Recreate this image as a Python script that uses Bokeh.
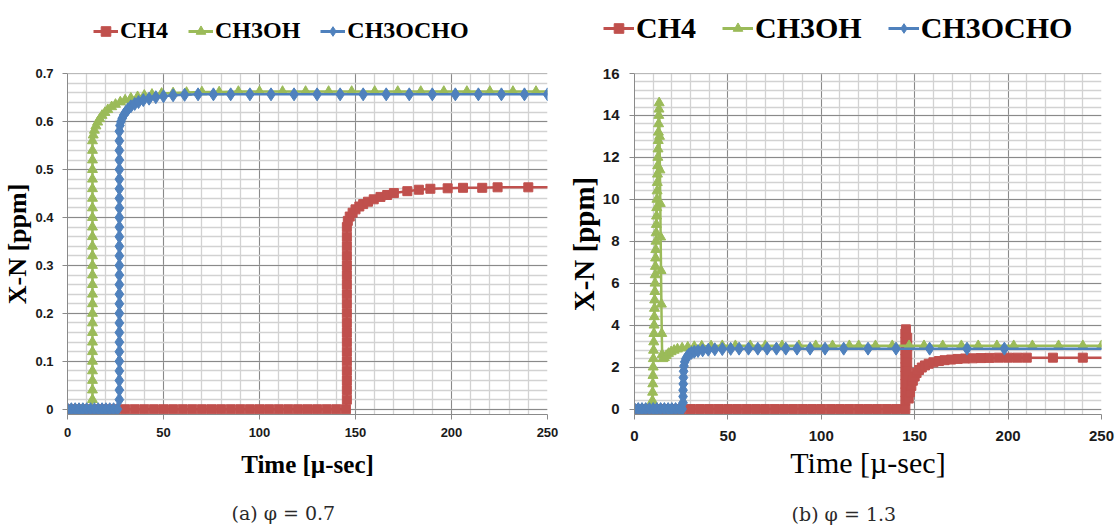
from bokeh.plotting import figure
from bokeh.layouts import row, column
from bokeh.models import (Legend, LegendItem, SingleIntervalTicker, NumeralTickFormatter,
                          Range1d, LinearAxis, FixedTicker)
from bokeh.embed import file_html
from bokeh.resources import INLINE

# ---------------- data ----------------
SERIES = ["CH4", "CH3OH", "CH3OCHO"]

# panel (a) phi = 0.7   (time [micro-sec], X [ppm])
CH4_A = [(0, 0), (5, 0), (10, 0), (15, 0), (20, 0), (25, 0), (30, 0), (35, 0), (40, 0), (45, 0),
         (50, 0), (55, 0), (60, 0), (65, 0), (70, 0), (75, 0), (80, 0), (85, 0), (90, 0), (95, 0),
         (100, 0), (105, 0), (110, 0), (115, 0), (120, 0), (125, 0), (130, 0), (135, 0), (140, 0), (145, 0),
         (145.5, 0.02), (145.5, 0.04), (145.5, 0.06), (145.5, 0.08), (145.5, 0.10), (145.5, 0.12),
         (145.5, 0.14), (145.5, 0.16), (145.5, 0.18), (145.5, 0.20), (145.5, 0.22), (145.5, 0.24),
         (145.5, 0.26), (145.5, 0.28), (145.5, 0.30), (145.5, 0.32), (145.5, 0.34), (145.5, 0.36),
         (145.5, 0.38), (146, 0.393), (147, 0.402), (148.5, 0.41), (150, 0.417), (152, 0.423),
         (154, 0.428), (156.5, 0.433), (159.5, 0.438), (163, 0.443), (166.5, 0.447), (170, 0.451),
         (177, 0.455), (183, 0.458), (189, 0.46), (198, 0.461), (206, 0.462), (216, 0.462),
         (224, 0.463), (240, 0.463), (258, 0.463)]

CH3OH_A = [(0, 0), (2, 0), (4, 0), (6, 0), (8, 0), (10, 0), (12, 0),
           (13, 0.02), (13, 0.04), (13, 0.06), (13, 0.08), (13, 0.10), (13, 0.12), (13, 0.14),
           (13, 0.16), (13, 0.18), (13, 0.20), (13, 0.22), (13, 0.24), (13, 0.26), (13, 0.28),
           (13, 0.30), (13, 0.32), (13, 0.34), (13, 0.36), (13, 0.38), (13, 0.40), (13, 0.42),
           (13, 0.44), (13, 0.46), (13, 0.48), (13, 0.50), (13, 0.52), (13, 0.54), (13, 0.56),
           (13.4, 0.572), (14, 0.582), (14.8, 0.591), (15.7, 0.599), (16.8, 0.606), (18, 0.613),
           (19.5, 0.619), (21, 0.625), (23, 0.631), (25, 0.636), (27.5, 0.641), (30, 0.645),
           (33, 0.649), (36.5, 0.652), (40, 0.655), (44, 0.657), (49, 0.659), (55, 0.66),
           (62, 0.661), (70, 0.662), (79, 0.662), (89, 0.663), (100, 0.663), (112, 0.663),
           (124, 0.663), (136, 0.663), (148, 0.663), (160, 0.663), (172, 0.663), (184, 0.663),
           (196, 0.663), (208, 0.663), (220, 0.663), (232, 0.663), (244, 0.663), (258, 0.663)]

CH3OCHO_A = [(0, 0), (2, 0), (4, 0), (6, 0), (8, 0), (10, 0), (12, 0), (14, 0), (16, 0), (18, 0),
             (20, 0), (22, 0), (24, 0), (26, 0),
             (27, 0.02), (27, 0.04), (27, 0.06), (27, 0.08), (27, 0.10), (27, 0.12), (27, 0.14),
             (27, 0.16), (27, 0.18), (27, 0.20), (27, 0.22), (27, 0.24), (27, 0.26), (27, 0.28),
             (27, 0.30), (27, 0.32), (27, 0.34), (27, 0.36), (27, 0.38), (27, 0.40), (27, 0.42),
             (27, 0.44), (27, 0.46), (27, 0.48), (27, 0.50), (27, 0.52), (27, 0.54), (27, 0.56),
             (27, 0.58), (27.3, 0.592), (27.8, 0.6), (28.5, 0.607), (29.3, 0.614), (30.3, 0.62),
             (31.5, 0.626), (33, 0.632), (35, 0.637), (37, 0.641), (39.5, 0.645), (42.5, 0.648),
             (46, 0.651), (50, 0.653), (55, 0.655), (61, 0.656), (68, 0.657), (76, 0.657),
             (85, 0.657), (95, 0.657), (106, 0.657), (118, 0.657), (130, 0.657), (142, 0.657),
             (154, 0.657), (166, 0.657), (178, 0.657), (190, 0.657), (202, 0.657), (214, 0.657),
             (226, 0.657), (238, 0.657), (250, 0.657), (258, 0.657)]

# panel (b) phi = 1.3
CH4_B = [(0, 0), (5, 0), (10, 0), (15, 0), (20, 0), (25, 0), (30, 0), (35, 0), (40, 0), (45, 0),
         (50, 0), (55, 0), (60, 0), (65, 0), (70, 0), (75, 0), (80, 0), (85, 0), (90, 0), (95, 0),
         (100, 0), (105, 0), (110, 0), (115, 0), (120, 0), (125, 0), (130, 0), (135, 0), (140, 0), (145, 0),
         (145, 0.4), (145, 0.8), (145, 1.2), (145, 1.6), (145, 2.0), (145, 2.4), (145, 2.8),
         (145, 3.2), (145, 3.6), (145.3, 3.8),
         (146, 3.4), (146, 3.0), (146, 2.6), (146, 2.2), (146, 1.8), (146, 1.4), (146, 1.0), (146, 0.6),
         (146.8, 0.5), (147.5, 0.8), (148.2, 1.1), (149, 1.35), (150, 1.55), (151, 1.72),
         (152.3, 1.86), (153.8, 1.98), (155.5, 2.08), (157.5, 2.16), (160, 2.23), (163, 2.29),
         (166, 2.33), (169.5, 2.36), (173, 2.39), (177, 2.41), (181, 2.42), (185.5, 2.43),
         (190, 2.44), (195, 2.45), (200, 2.45), (205, 2.45), (210, 2.45), (224, 2.45),
         (240, 2.45), (258, 2.45)]

CH3OH_B = [(0, 0), (2, 0), (4, 0), (6, 0), (8, 0), (9.5, 0),
           (9.6, 0.4), (9.7, 0.8), (9.8, 1.2), (9.9, 1.6), (10, 2.0), (10.1, 2.4), (10.2, 2.8),
           (10.3, 3.2), (10.4, 3.6), (10.5, 4.0), (10.6, 4.4), (10.7, 4.8), (10.8, 5.2), (10.9, 5.6),
           (11, 6.0), (11.1, 6.4), (11.2, 6.8), (11.3, 7.2), (11.4, 7.6), (11.5, 8.0), (11.6, 8.4),
           (11.7, 8.8), (11.8, 9.2), (11.9, 9.6), (12, 10.0), (12.1, 10.4), (12.2, 10.8),
           (12.3, 11.2), (12.4, 11.6), (12.5, 12.0), (12.6, 12.4), (12.7, 12.8), (12.8, 13.2),
           (12.9, 13.6), (13, 14.0), (13.1, 14.3), (13.2, 14.6),
           (13.4, 13.0), (13.6, 11.4), (13.8, 9.8), (14, 8.2), (14.2, 6.6), (14.4, 5.0),
           (14.6, 3.6), (14.8, 2.6), (15.2, 2.4), (16, 2.45), (17, 2.55), (18.2, 2.65),
           (19.6, 2.73), (21.2, 2.8), (23, 2.86), (25.5, 2.91), (28.5, 2.95), (32, 2.98),
           (36, 3.0), (41, 3.01), (47, 3.02), (54, 3.02), (62, 3.02), (70, 3.02), (79, 3.02),
           (88, 3.02), (97, 3.02), (106, 3.02), (115, 3.02), (120, 3.02), (129, 3.02),
           (138, 3.02), (147, 3.02), (155, 3.02), (165, 3.02), (175, 3.02), (184, 3.02),
           (194, 3.02), (203, 3.02), (213, 3.02), (227, 3.02), (240, 3.02), (250, 3.02), (258, 3.02)]

CH3OCHO_B = [(0, 0), (2, 0), (4, 0), (6, 0), (8, 0), (10, 0), (12, 0), (14, 0), (16, 0), (18, 0),
             (20, 0), (22, 0), (24, 0), (25.5, 0),
             (26, 0.3), (26, 0.6), (26, 0.9), (26.1, 1.2), (26.2, 1.5), (26.3, 1.8), (26.5, 2.05),
             (26.9, 2.25), (27.5, 2.4), (28.3, 2.52), (29.3, 2.61), (30.5, 2.68), (32, 2.73),
             (34, 2.77), (36.5, 2.8), (39.5, 2.83), (43, 2.85), (47, 2.86), (51.5, 2.87),
             (56, 2.88), (61, 2.88), (66, 2.88), (71, 2.88), (76, 2.88), (81, 2.88), (87, 2.88),
             (94, 2.88), (102, 2.88), (112, 2.88), (125, 2.88), (140, 2.88), (158, 2.88),
             (178, 2.88), (198, 2.88), (258, 2.88)]

COLORS = ["#C0504D", "#9BBB59", "#4F81BD"]
MARKERS = ["square", "triangle", "diamond"]

NBSP = "\u00a0"


def make_legend_fig(width, height, font_size, glyph_w, spacing, loc, marker_sizes):
    lf = figure(width=width, height=height, output_backend="svg", toolbar_location=None,
                title=None, x_range=Range1d(0, 1), y_range=Range1d(0, 1), min_border=0,
                x_axis_location=None, y_axis_location=None,
                background_fill_color="white", border_fill_color="white")
    lf.outline_line_color = None
    lf.grid.visible = False
    items = []
    for name, col, mk, ms in zip(SERIES, COLORS, MARKERS, marker_sizes):
        # placeholder renderers outside the visible range, only used for the legend glyphs
        ln = lf.line([5, 6], [5, 5], line_color=col, line_width=3)
        sc = lf.scatter([5.5], [5], marker=mk, size=ms, fill_color=col, line_color=col)
        items.append(LegendItem(label=name, renderers=[ln, sc]))
    leg = Legend(items=items, orientation="horizontal", location=loc,
                 label_text_font="Liberation Serif", label_text_font_style="bold",
                 label_text_font_size=f"{font_size}px", label_text_color="black",
                 glyph_width=glyph_w, glyph_height=24, label_standoff=2,
                 spacing=spacing, padding=0, margin=0,
                 border_line_color=None, background_fill_alpha=0)
    lf.add_layout(leg)
    return lf


def make_panel(data, width, height, y_end, y_start, y_interval, left, right, top, bottom,
               tick_size, ylabel_size, xlabel_size, xlabel_style, caption, caption_standoff,
               y_standoff, x_standoff, xlabel_standoff, y_fmt=None, marker_sizes=(9, 10, 13)):
    p = figure(width=width, height=height, output_backend="svg", toolbar_location=None,
               title=None, x_range=Range1d(0, 250), y_range=Range1d(y_start, y_end),
               min_border_left=left, min_border_right=right, min_border_top=top,
               min_border_bottom=bottom, background_fill_color="white",
               border_fill_color="white")
    p.outline_line_color = None

    xt = SingleIntervalTicker(interval=50, num_minor_ticks=5)
    yt = SingleIntervalTicker(interval=y_interval, num_minor_ticks=5)
    p.xaxis.ticker = xt
    p.xgrid.ticker = xt
    p.yaxis.ticker = yt
    p.ygrid.ticker = yt
    if y_fmt is not None:
        p.yaxis.formatter = y_fmt

    for g in (p.xgrid, p.ygrid):
        g.grid_line_color = "#8a8a8a"
        g.grid_line_width = 1
        g.minor_grid_line_color = "#d2d2d2"
        g.minor_grid_line_width = 1.3

    for ax in (p.xaxis, p.yaxis):
        ax.axis_line_color = "#8a8a8a"
        ax.major_tick_line_color = "#8a8a8a"
        ax.major_tick_out = 5
        ax.major_tick_in = 0
        ax.minor_tick_line_color = None
        ax.major_label_text_font = "Liberation Sans"
        ax.major_label_text_font_style = "bold"
        ax.major_label_text_font_size = f"{tick_size}px"
        ax.major_label_text_color = "#1a1a1a"
        ax.axis_label_text_color = "black"
        ax.axis_label_text_font = "Liberation Serif"

    p.yaxis.major_label_standoff = y_standoff
    p.xaxis.major_label_standoff = x_standoff
    p.yaxis.axis_label = "X-N [ppm]"
    p.yaxis.axis_label_text_font_style = "bold"
    p.yaxis.axis_label_text_font_size = f"{ylabel_size}px"
    p.yaxis.axis_label_standoff = 0
    p.xaxis.axis_label = "Time [\u00b5-sec]"
    p.xaxis.axis_label_text_font_style = xlabel_style
    p.xaxis.axis_label_text_font_size = f"{xlabel_size}px"
    p.xaxis.axis_label_standoff = xlabel_standoff

    # caption of the sub-figure, written as the label of an empty axis below the x axis
    cap = LinearAxis(ticker=FixedTicker(ticks=[]), axis_label=caption + NBSP * 7,
                     axis_line_color=None, major_tick_out=0, major_tick_in=0,
                     major_label_standoff=0, minor_tick_line_color=None,
                     major_tick_line_color=None,
                     axis_label_standoff=caption_standoff,
                     axis_label_text_font="DejaVu Serif",
                     axis_label_text_font_style="normal",
                     axis_label_text_font_size="19px",
                     axis_label_text_color="#2a2a2a")
    p.add_layout(cap, "below")

    for name, pts, col, mk, ms in zip(SERIES, data, COLORS, MARKERS, marker_sizes):
        xs = [a for a, b in pts]
        ys = [b for a, b in pts]
        p.line(xs, ys, line_color=col, line_width=2.5)
        p.scatter(xs, ys, marker=mk, size=ms, fill_color=col, line_color=col)
    return p


LEG_H = 56
MAIN_H = 471
WA, WB = 562, 556

lega = make_legend_fig(WA, LEG_H, 24, 25, 20, (93, 12), (9, 10, 12))
legb = make_legend_fig(WB, LEG_H, 30, 31, 26, (41, 11), (10, 11, 13))

pa = make_panel([CH4_A, CH3OH_A, CH3OCHO_A], width=WA, height=MAIN_H,
                y_end=0.7005, y_start=-0.011, y_interval=0.1,
                left=67, right=15, top=14, bottom=107,
                tick_size=13, ylabel_size=26, xlabel_size=25, xlabel_style="bold",
                caption="(a)  \u03c6 = 0.7", caption_standoff=21,
                y_standoff=9, x_standoff=8, xlabel_standoff=11,
                y_fmt=NumeralTickFormatter(format="0.[0]"))

pb = make_panel([CH4_B, CH3OH_B, CH3OCHO_B], width=WB, height=MAIN_H,
                y_end=16.001, y_start=-0.26, y_interval=2,
                left=72, right=17, top=17, bottom=112,
                tick_size=15, ylabel_size=29, xlabel_size=30, xlabel_style="normal",
                caption="(b)  \u03c6 = 1.3", caption_standoff=21,
                y_standoff=10, x_standoff=11, xlabel_standoff=2)

layout = column(row(lega, legb), row(pa, pb))
open("out.html", "w").write(file_html(layout, INLINE))
